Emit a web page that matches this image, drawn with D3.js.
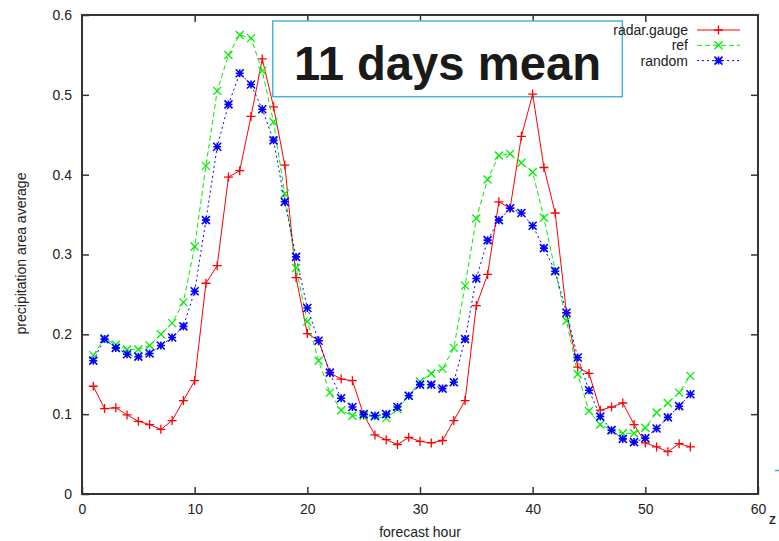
<!DOCTYPE html>
<html>
<head>
<meta charset="utf-8">
<script src="https://cdn.jsdelivr.net/npm/d3@7"></script>
<style>
  body { margin: 0; background: #fff; }
  svg { display: block; font-family: "Liberation Sans", Arial, sans-serif; }
</style>
</head>
<body>
<div id="chart-area"></div>
<script>
// forecast hours
var hours = [1, 2, 3, 4, 5, 6, 7, 8, 9, 10, 11, 12, 13, 14, 15, 16, 17, 18, 19, 20,
  21, 22, 23, 24, 25, 26, 27, 28, 29, 30, 31, 32, 33, 34, 35, 36, 37, 38, 39, 40,
  41, 42, 43, 44, 45, 46, 47, 48, 49, 50, 51, 52, 53, 54];

var radarGauge = [0.135, 0.107, 0.108, 0.099, 0.091, 0.087, 0.081, 0.092, 0.117, 0.142,
  0.264, 0.286, 0.397, 0.405, 0.473, 0.545, 0.485, 0.412, 0.271, 0.201,
  0.192, 0.152, 0.144, 0.142, 0.099, 0.074, 0.068, 0.062, 0.071, 0.066,
  0.064, 0.067, 0.092, 0.117, 0.236, 0.275, 0.366, 0.358, 0.448, 0.501,
  0.409, 0.352, 0.227, 0.159, 0.151, 0.105, 0.109, 0.114, 0.087, 0.064,
  0.059, 0.053, 0.063, 0.059];

var ref = [0.174, 0.195, 0.187, 0.181, 0.181, 0.186, 0.200, 0.214, 0.240, 0.310,
  0.411, 0.505, 0.550, 0.575, 0.571, 0.530, 0.466, 0.376, 0.283, 0.216,
  0.167, 0.127, 0.105, 0.098, 0.098, 0.097, 0.095, 0.106, 0.123, 0.141,
  0.151, 0.157, 0.183, 0.261, 0.345, 0.394, 0.424, 0.426, 0.415, 0.403,
  0.346, 0.280, 0.217, 0.150, 0.104, 0.087, 0.080, 0.076, 0.076, 0.083,
  0.102, 0.114, 0.127, 0.148];

var random = [0.167, 0.194, 0.183, 0.175, 0.172, 0.176, 0.186, 0.196, 0.210, 0.254,
  0.343, 0.435, 0.488, 0.527, 0.513, 0.482, 0.443, 0.366, 0.297, 0.233,
  0.192, 0.152, 0.120, 0.109, 0.100, 0.098, 0.100, 0.109, 0.123, 0.137,
  0.137, 0.132, 0.140, 0.194, 0.270, 0.318, 0.343, 0.358, 0.352, 0.336,
  0.308, 0.279, 0.227, 0.171, 0.130, 0.097, 0.080, 0.069, 0.065, 0.070,
  0.082, 0.096, 0.110, 0.125];

var xTicks = [0, 10, 20, 30, 40, 50, 60];
var yTicks = [0, 0.1, 0.2, 0.3, 0.4, 0.5, 0.6];

var seriesNames = ["radar.gauge", "ref", "random"];
var seriesValues = [radarGauge, ref, random];

var W = 779, H = 541;
var margin = { top: 15, right: 21, bottom: 47, left: 82 };

var svg = d3.select("#chart-area")
  .append("svg")
  .attr("width", W)
  .attr("height", H);

var x = d3.scaleLinear().domain([0, 60]).range([margin.left, W - margin.right]);
var y = d3.scaleLinear().domain([0, 0.6]).range([H - margin.bottom, margin.top]);

var frameColor = "#333";
var tickLen = 7;

// inward ticks on all four sides (gnuplot style)
svg.append("g")
  .attr("transform", "translate(0," + y(0) + ")")
  .call(d3.axisBottom(x).tickValues(xTicks).tickSize(-tickLen).tickPadding(10).tickFormat(d3.format("d")))
  .call(g => g.select(".domain").remove());
svg.append("g")
  .attr("transform", "translate(0," + y(0.6) + ")")
  .call(d3.axisTop(x).tickValues(xTicks.slice(1, -1)).tickSize(-tickLen).tickFormat(""))
  .call(g => g.select(".domain").remove());
svg.append("g")
  .attr("transform", "translate(" + x(0) + ",0)")
  .call(d3.axisLeft(y).tickValues(yTicks).tickSize(-tickLen).tickPadding(10).tickFormat(d => d === 0 ? "0" : d3.format(".1f")(d)))
  .call(g => g.select(".domain").remove());
svg.append("g")
  .attr("transform", "translate(" + x(60) + ",0)")
  .call(d3.axisRight(y).tickValues(yTicks.slice(1, -1)).tickSize(-tickLen).tickFormat(""))
  .call(g => g.select(".domain").remove());

svg.selectAll(".tick line").attr("stroke", frameColor).attr("stroke-width", 1.5);
svg.selectAll(".tick text")
  .attr("fill", "#222")
  .style("font-size", "14px")
  .style("font-family", "\"Liberation Sans\", Arial, sans-serif");

svg.append("rect")
  .attr("x", x(0))
  .attr("y", y(0.6))
  .attr("width", x(60) - x(0))
  .attr("height", y(0) - y(0.6))
  .attr("fill", "none")
  .attr("stroke", frameColor)
  .attr("stroke-width", 2);

// axis titles
svg.append("text")
  .attr("x", (x(0) + x(60)) / 2)
  .attr("y", 537)
  .attr("text-anchor", "middle")
  .attr("fill", "#222")
  .style("font-size", "14px")
  .text("forecast hour");

svg.append("text")
  .attr("transform", "translate(26," + (y(0.3) - 1) + ") rotate(-90)")
  .attr("text-anchor", "middle")
  .attr("fill", "#222")
  .style("font-size", "14px")
  .text("precipitation area average");

// title box (sits over the frame ticks)
svg.append("rect")
  .attr("x", 272.7)
  .attr("y", 21)
  .attr("width", 349.6)
  .attr("height", 75.7)
  .attr("fill", "#fff")
  .attr("stroke", "#4ab3dc")
  .attr("stroke-width", 1.5);

svg.append("text")
  .attr("x", 294)
  .attr("y", 80)
  .attr("textLength", 307)
  .attr("lengthAdjust", "spacingAndGlyphs")
  .attr("fill", "#1a1a1a")
  .style("font-size", "48px")
  .style("font-weight", "bold")
  .text("11 days mean");

// series styles
var colors = ["#ff0000", "#00ee00", "#0000ff"];
var dashes = [null, "5,3", "2,3"];

function marker(kind, cx, cy, r) {
  var plus = "M" + (cx - r) + "," + cy + "h" + (2 * r) + "M" + cx + "," + (cy - r) + "v" + (2 * r);
  var cross = "M" + (cx - r) + "," + (cy - r) + "l" + (2 * r) + "," + (2 * r) +
    "M" + (cx - r) + "," + (cy + r) + "l" + (2 * r) + "," + (-2 * r);
  if (kind === 0) return plus;
  if (kind === 1) return cross;
  return plus + cross;
}
var markerSize = [4.5, 4, 4];

var line = d3.line()
  .x(d => x(d.hour))
  .y(d => y(d.value));

seriesValues.forEach(function (vals, k) {
  var pts = hours.map((h, i) => ({ hour: h, value: vals[i] }));
  var g = svg.append("g");
  g.append("path")
    .datum(pts)
    .attr("d", line)
    .attr("fill", "none")
    .attr("stroke", colors[k])
    .attr("stroke-width", 1)
    .attr("stroke-dasharray", dashes[k]);
  g.selectAll("path.pt")
    .data(pts)
    .enter()
    .append("path")
    .attr("class", "pt")
    .attr("d", d => marker(k, x(d.hour), y(d.value), markerSize[k]))
    .attr("fill", "none")
    .attr("stroke", colors[k])
    .attr("stroke-width", k === 2 ? 1.6 : 1.3);
});

// legend (top right, inside frame)
var legend = svg.append("g");
seriesNames.forEach(function (name, k) {
  var ly = 30 + k * 15.3;
  legend.append("text")
    .attr("x", 688)
    .attr("y", ly + 5)
    .attr("text-anchor", "end")
    .attr("fill", "#222")
    .style("font-size", "14px")
    .text(name);
  legend.append("line")
    .attr("x1", 697)
    .attr("x2", 740)
    .attr("y1", ly)
    .attr("y2", ly)
    .attr("stroke", colors[k])
    .attr("stroke-width", 1)
    .attr("stroke-dasharray", dashes[k]);
  legend.append("path")
    .attr("d", marker(k, 718.5, ly, markerSize[k]))
    .attr("fill", "none")
    .attr("stroke", colors[k])
    .attr("stroke-width", k === 2 ? 1.6 : 1.3);
});

// clipped bits at the right edge of the original slide
svg.append("line")
  .attr("x1", 775).attr("x2", 779)
  .attr("y1", 470.5).attr("y2", 470.5)
  .attr("stroke", "#3aa8d8")
  .attr("stroke-width", 1.5);
svg.append("text")
  .attr("x", 769)
  .attr("y", 524)
  .attr("fill", "#222")
  .style("font-size", "11px")
  .style("font-weight", "bold")
  .text("Z");
</script>
</body>
</html>
